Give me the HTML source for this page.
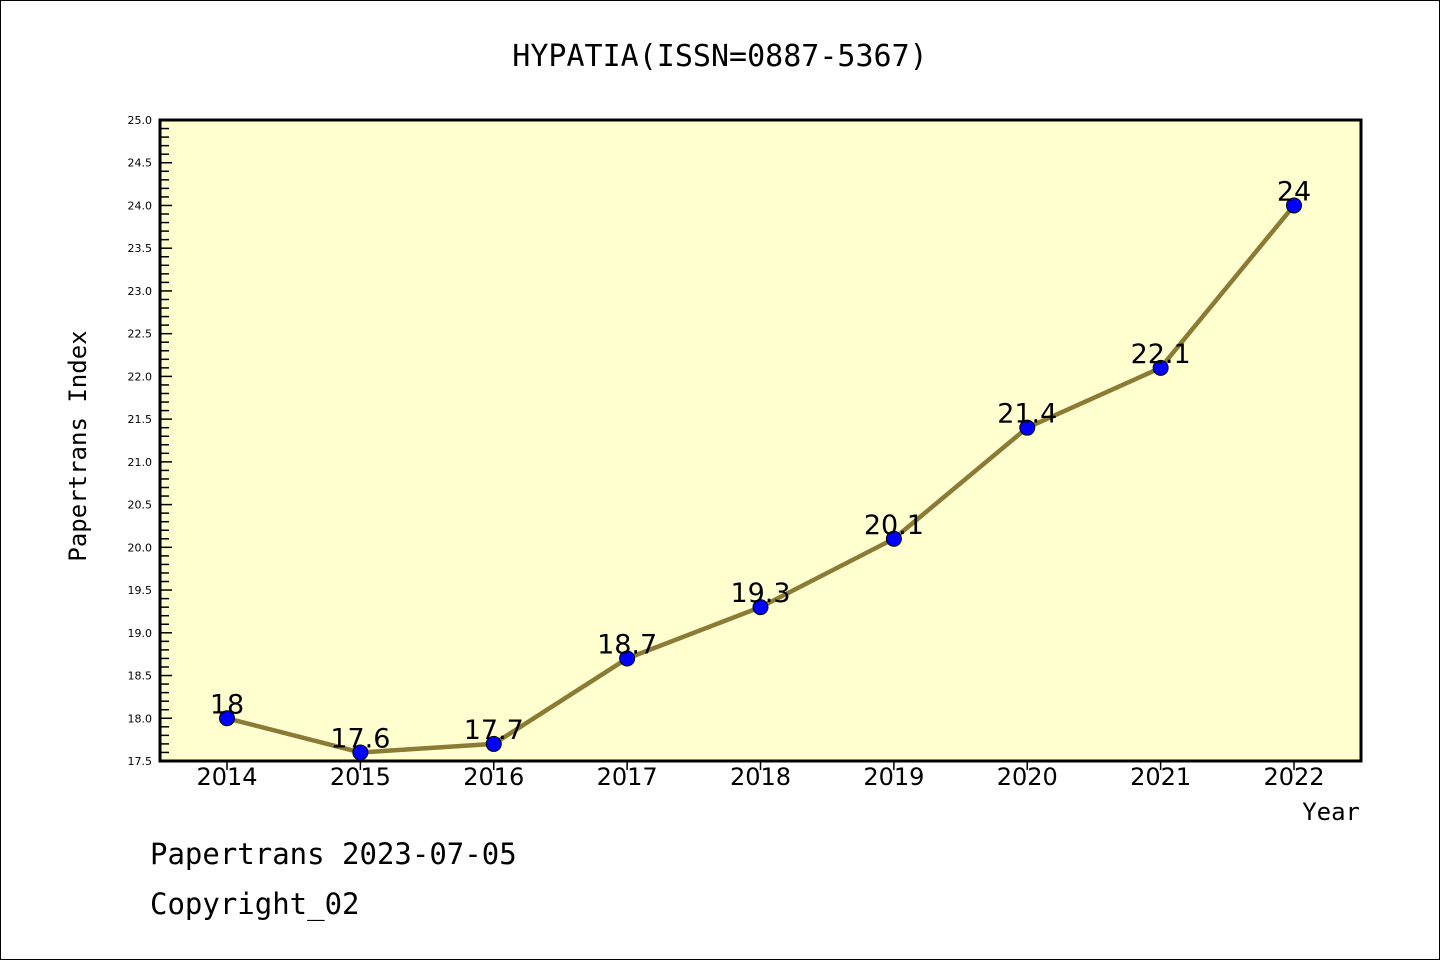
<!DOCTYPE html>
<html><head><meta charset="utf-8"><style>
body{margin:0;background:#fff;}
svg{display:block;font-family:"Liberation Mono","DejaVu Sans Mono",monospace;}
</style></head><body>
<svg id="chart" width="1440" height="960">
<rect x="0.5" y="0.5" width="1439" height="959" fill="#fff" stroke="#000"/>
<text x="720" y="66" font-size="30" text-anchor="middle" font-family="'DejaVu Sans Mono',monospace">HYPATIA(ISSN=0887-5367)</text>
<rect x="160" y="120" width="1201" height="641" fill="#ffffd0"/>
<g id="yticks"></g><g id="xticks"></g><g id="series"></g>
<rect x="160" y="120" width="1201" height="641" fill="none" stroke="#000" stroke-width="3"/>
<text x="86" y="446" font-size="24" text-anchor="middle" transform="rotate(-90 86 446)" font-family="'DejaVu Sans Mono',monospace">Papertrans Index</text>
<text x="1360" y="820" font-size="24" text-anchor="end" font-family="'DejaVu Sans Mono',monospace">Year</text>
<text x="150" y="864" font-size="29" font-family="'DejaVu Sans Mono',monospace">Papertrans 2023-07-05</text>
<text x="150" y="914" font-size="29" font-family="'DejaVu Sans Mono',monospace">Copyright_02</text>
</svg>
<script>
const years=[2014,2015,2016,2017,2018,2019,2020,2021,2022];
const values=[18,17.6,17.7,18.7,19.3,20.1,21.4,22.1,24];
const valueLabels=["18","17.6","17.7","18.7","19.3","20.1","21.4","22.1","24"];
const yMin=17.5,yMax=25;
const NS="http://www.w3.org/2000/svg";
const X0=227,XS=(1294-227)/8;
function xs(i){return X0+i*XS;}
function ys(v){return 761-(v-yMin)/(yMax-yMin)*641;}
function mk(tag,attrs,parent,text){const e=document.createElementNS(NS,tag);for(const k in attrs)e.setAttribute(k,attrs[k]);if(text!==undefined)e.textContent=text;parent.appendChild(e);return e;}
const yt=document.getElementById('yticks');
for(let k=0;k<=75;k++){
  const v=yMin+k*0.1,y=ys(v),major=k%5===0;
  const t=mk('line',{x1:160,x2:major?172:169,y1:y,y2:y,stroke:'#000','stroke-width':1.5},yt);
  
  
  if(major){
    const l=mk('text',{x:152,y:y+4,'font-size':11,'text-anchor':'end','font-family':"'DejaVu Sans',sans-serif"},yt,v.toFixed(1));
    
    
  }
}
const xt=document.getElementById('xticks');
years.forEach((yr,i)=>{
  const t=mk('line',{x1:xs(i),x2:xs(i),y1:761,y2:770,stroke:'#000','stroke-width':1.5},xt);
  
  
  const l=mk('text',{x:xs(i),y:785,'font-size':24,'text-anchor':'middle','font-family':"'DejaVu Sans',sans-serif"},xt,String(yr));
  
  
});
const s=document.getElementById('series');
const pl=mk('polyline',{points:values.map((v,i)=>xs(i)+','+ys(v)).join(' '),fill:'none',stroke:'#8b7b35','stroke-width':4.5,'stroke-linejoin':'round'},s);


values.forEach((v,i)=>{
  const c=mk('circle',{cx:xs(i),cy:ys(v),r:7.5,fill:'#0000ff',stroke:'#000','stroke-width':1},s);
  
  
  const l=mk('text',{x:xs(i),y:ys(v)-5,'font-size':27,'text-anchor':'middle','font-family':"'DejaVu Sans',sans-serif"},s,valueLabels[i]);
  
  
});
</script>
</body></html>
